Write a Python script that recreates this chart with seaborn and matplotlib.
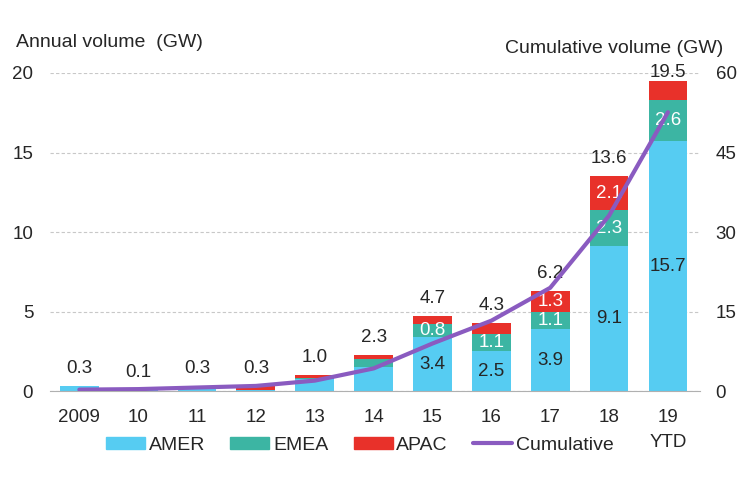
import matplotlib
matplotlib.use("Agg")
import matplotlib.pyplot as plt
import numpy as np
import pandas as pd
import seaborn as sns
from matplotlib.patches import Patch
from matplotlib.lines import Line2D

# Data
years = ["2009", "10", "11", "12", "13", "14", "15", "16", "17", "18", "19\nYTD"]
amer = [0.3, 0.1, 0.3, 0.05, 0.75, 1.5, 3.4, 2.5, 3.9, 9.1, 15.7]
emea = [0.0, 0.0, 0.0, 0.0, 0.05, 0.55, 0.8, 1.1, 1.1, 2.3, 2.6]
apac = [0.0, 0.0, 0.0, 0.25, 0.2, 0.25, 0.5, 0.7, 1.3, 2.1, 1.2]
totals = [0.3, 0.1, 0.3, 0.3, 1.0, 2.3, 4.7, 4.3, 6.2, 13.6, 19.5]
cumulative = [0.3, 0.4, 0.7, 1.0, 2.0, 4.3, 9.0, 13.3, 19.5, 33.1, 52.6]

c_amer = "#56CCF2"
c_emea = "#3CB5A3"
c_apac = "#E8312A"
c_cum = "#8A5BC0"

sns.set_style("white")
plt.rcParams["font.family"] = ["Liberation Sans", "DejaVu Sans"]

df = pd.DataFrame({"year": years, "AMER": amer, "EMEA": emea, "APAC": apac})
df["ae"] = df["AMER"] + df["EMEA"]
df["aea"] = df["ae"] + df["APAC"]

fig = plt.figure(figsize=(7.45, 4.83), dpi=100)
ax = fig.add_axes([0.067, 0.19, 0.873, 0.659])

# stacked bars via overlapping cumulative layers
bar_kw = dict(x="year", width=0.66, saturation=1, linewidth=0, ax=ax, zorder=2)
sns.barplot(data=df, y="aea", color=c_apac, **bar_kw)
sns.barplot(data=df, y="ae", color=c_emea, **bar_kw)
sns.barplot(data=df, y="AMER", color=c_amer, **bar_kw)

ax.set_xlim(-0.5, 10.55)
ax.set_ylim(0, 20)
ax.set_yticks([0, 5, 10, 15, 20])
ax.yaxis.grid(True, linestyle=(0, (3, 2)), color="#c8c8c8", linewidth=0.8)
ax.set_axisbelow(True)
for s in ["top", "left", "right"]:
    ax.spines[s].set_visible(False)
ax.spines["bottom"].set_color("#b0b0b0")
ax.set_xlabel("")
ax.set_ylabel("")
ax.tick_params(axis="y", length=0, labelsize=13.5, pad=12)
ax.set_xticks(range(len(years)))
ax.set_xticklabels(years, fontsize=13.5, linespacing=1.6, va="top")
ax.tick_params(axis="x", length=0, pad=13)
ax.set_xticks(np.arange(-0.5, len(years), 1.0), minor=True)
ax.tick_params(axis="x", which="minor", length=5, color="#b0b0b0", direction="out")

# labels
for i in range(len(years)):
    ax.text(i, min(df["aea"][i] + 1.1, 20), f"{totals[i]:.1f}", ha="center", va="center",
            fontsize=13.5)
    if i >= 6:
        ax.text(i, amer[i] / 2, f"{amer[i]:.1f}", ha="center", va="center", fontsize=13.5, zorder=5)
        ax.text(i, amer[i] + emea[i] / 2, f"{emea[i]:.1f}", ha="center", va="center",
                fontsize=13.5, color="white", zorder=5)
        if i in (8, 9):
            ax.text(i, df["ae"][i] + apac[i] / 2, f"{apac[i]:.1f}", ha="center", va="center",
                    fontsize=13.5, color="white", zorder=5)

ax2 = ax.twinx()
sns.lineplot(x=np.arange(len(years)), y=cumulative, color=c_cum, linewidth=3, ax=ax2)
ax2.set_ylim(0, 60)
ax2.set_yticks([0, 15, 30, 45, 60])
ax2.tick_params(axis="y", length=0, labelsize=13.5, pad=11)
for s in ["top", "left", "right", "bottom"]:
    ax2.spines[s].set_visible(False)

fig.text(0.022, 0.913, "Annual volume  (GW)", fontsize=14, ha="left", va="center")
fig.text(0.971, 0.9, "Cumulative volume (GW)", fontsize=14, ha="right", va="center")

handles = [Patch(color=c_amer), Patch(color=c_emea), Patch(color=c_apac),
           Line2D([0], [0], color=c_cum, linewidth=3)]
fig.legend(handles, ["AMER", "EMEA", "APAC", "Cumulative"], loc="center",
           bbox_to_anchor=(0.483, 0.078), ncol=4, frameon=False, fontsize=14,
           handlelength=2.0, handleheight=0.55, handletextpad=0.2, columnspacing=1.3)

fig.savefig("out.png", dpi=100)
